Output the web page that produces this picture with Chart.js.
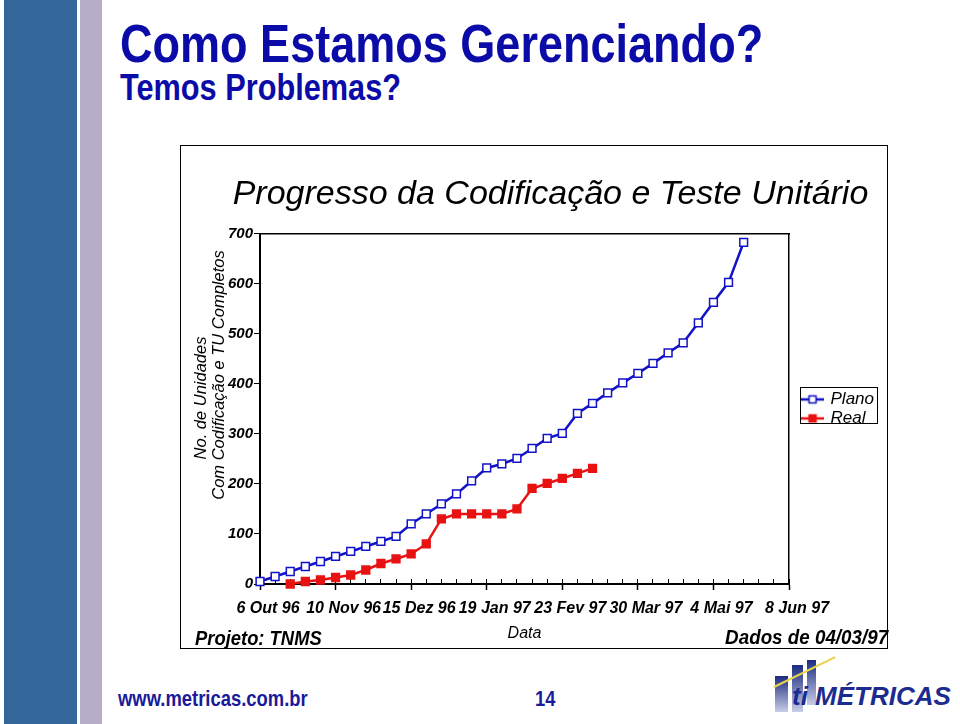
<!DOCTYPE html>
<html lang="pt-br">
<head>
<meta charset="UTF-8">
<title>Como Estamos Gerenciando?</title>
<script src="https://cdn.jsdelivr.net/npm/chart.js@4"></script>
<style>
  body { margin: 0; width: 960px; height: 724px; position: relative; background: #fff; overflow: hidden;
         font-family: 'Liberation Sans', Arial, sans-serif; }
  .barra-azul { position: absolute; left: 4px; top: 0; width: 73px; height: 724px; background: #33669b; }
  .barra-lilas { position: absolute; left: 80px; top: 0; width: 22px; height: 724px; background: #b6aec8; }
  /* sem fonte "narrow" instalada: comprime na horizontal */
  .estreita { transform: scaleX(0.834); transform-origin: left center; }
  .titulo { position: absolute; left: 120px; top: 16px; font-size: 54px; font-weight: bold; color: #0b0ba8; line-height: 1; white-space: nowrap; }
  .subtitulo { position: absolute; left: 120px; top: 69px; font-size: 37px; font-weight: bold; color: #0b0ba8; line-height: 1; white-space: nowrap; }
  .moldura { position: absolute; left: 180px; top: 145px; width: 706px; height: 502px; border: 1px solid #000; }
  .moldura canvas { position: absolute; left: 0; top: 0; }
  .eixo-y { position: absolute; font-size: 16.5px; font-style: italic; white-space: nowrap; line-height: 1;
            transform: translate(-50%, -50%) rotate(-90deg); }
  .rodape-graf { position: absolute; font-size: 21px; font-weight: bold; font-style: italic; line-height: 1; white-space: nowrap; }
  .site { position: absolute; left: 118px; top: 688px; font-size: 22px; font-weight: bold; color: #1a1a9a; line-height: 1; white-space: nowrap; }
  .pagina { position: absolute; left: 535px; top: 688px; font-size: 22px; font-weight: bold; color: #1a1a9a; line-height: 1; }
  .logo-barra { position: absolute; background: linear-gradient(#1b2b80, #c8cde6); }
  .logo-linha { position: absolute; left: 774px; top: 686px; width: 68px; height: 2px; background: #e8d44a; transform: rotate(-26deg); transform-origin: left center; }
  .logo-texto { position: absolute; left: 792px; top: 683px; font-size: 26px; font-weight: bold; font-style: italic; color: #1b2b8f; line-height: 1; white-space: nowrap; }
</style>
</head>
<body>
  <div class="barra-azul"></div>
  <div class="barra-lilas"></div>
  <div class="titulo estreita">Como Estamos Gerenciando?</div>
  <div class="subtitulo estreita" style="transform: scaleX(0.83);">Temos Problemas?</div>

  <div class="moldura">
    <canvas id="grafico" width="706" height="502"></canvas>
  </div>
  <div class="eixo-y" style="left:200px; top:398px;">No. de Unidades</div>
  <div class="eixo-y" style="left:218px; top:375px;">Com Codificação e TU Completos</div>
  <div class="rodape-graf" style="left:195px; top:627px; transform: scaleX(0.876); transform-origin: left center;">Projeto: TNMS</div>
  <div class="rodape-graf" style="right:72px; top:626px; transform: scaleX(0.895); transform-origin: right center;">Dados de 04/03/97</div>

  <div class="site estreita" style="transform: scaleX(0.837);">www.metricas.com.br</div>
  <div class="pagina estreita">14</div>
  <div class="logo-barra" style="left:775px; top:676px; width:13px; height:36px;"></div>
  <div class="logo-barra" style="left:792px; top:665px; width:11px; height:47px;"></div>
  <div class="logo-barra" style="left:807px; top:660px; width:9px; height:45px;"></div>
  <div class="logo-linha"></div>
  <div class="logo-texto">ti MÉTRICAS</div>

<script>
// semanas a partir de 6 Out 96 (uma por semana)
const rotulosSemana = ['6 Out 96', '10 Nov 96', '15 Dez 96', '19 Jan 97', '23 Fev 97', '30 Mar 97', '4 Mai 97', '8 Jun 97'];
const totalSemanas = 35;
const planoValores = [5, 15, 25, 35, 45, 55, 65, 75, 85, 95, 120, 140, 160, 180, 206, 232, 240, 251, 271, 291, 301,
                      341, 361, 382, 402, 421, 441, 462, 482, 522, 563, 603, 683];
const realInicio = 2;
const realValores = [0, 5, 8, 13, 18, 28, 41, 50, 60, 80, 130, 140, 140, 140, 140, 150, 191, 201, 211, 221, 231];
const yTicks = [0, 100, 200, 300, 400, 500, 600, 700];

const SANS = "'Liberation Sans', Arial, sans-serif";
const AZUL = '#1212c8';
const VERMELHO = '#e81212';

// simbolo da legenda: linha com quadrado no meio
function iconeLegenda(cor, preenchido) {
    const c = document.createElement('canvas');
    c.width = 23; c.height = 12;
    const g = c.getContext('2d');
    g.strokeStyle = cor; g.lineWidth = 2.5;
    g.beginPath(); g.moveTo(0, 6); g.lineTo(23, 6); g.stroke();
    g.fillStyle = preenchido ? cor : '#fff';
    g.fillRect(8, 2, 8, 8);
    g.lineWidth = 1.5;
    g.strokeRect(8.5, 2.5, 7, 7);
    return c;
}
const icones = [iconeLegenda(AZUL, false), iconeLegenda(VERMELHO, true)];

// caixa em volta da legenda (cortando a parte de baixo, como no original)
const molduraLegenda = {
    id: 'molduraLegenda',
    afterDraw(chart) {
        const hb = chart.legend.legendHitBoxes;
        if (!hb || !hb.length) return;
        const ctx = chart.ctx;
        const left = Math.min(...hb.map(h => h.left)) - 2;
        const right = Math.max(...hb.map(h => h.left + h.width)) + 3;
        const top = hb[0].top - 4;
        const bottom = hb[hb.length - 1].top + 13;
        ctx.save();
        ctx.fillStyle = '#fff';
        ctx.fillRect(left, bottom, right - left + 1, 12);
        ctx.strokeStyle = '#000';
        ctx.lineWidth = 1;
        ctx.strokeRect(Math.round(left) + 0.5, Math.round(top) + 0.5, Math.round(right - left), Math.round(bottom - top));
        ctx.restore();
    }
};

const ctx = document.getElementById('grafico').getContext('2d');
new Chart(ctx, {
    type: 'line',
    data: {
        datasets: [{
            label: 'Plano',
            data: planoValores.map((v, i) => ({ x: i, y: v })),
            borderColor: AZUL,
            borderWidth: 2.5,
            pointStyle: 'rect',
            pointRadius: 5.5,
            pointBorderWidth: 1.5,
            pointBackgroundColor: '#fff',
            pointBorderColor: AZUL,
            tension: 0,
            clip: false,
            xAxisID: 'x',
            yAxisID: 'y'
        }, {
            label: 'Real',
            data: realValores.map((v, i) => ({ x: i + realInicio, y: v })),
            borderColor: VERMELHO,
            borderWidth: 2.5,
            pointStyle: 'rect',
            pointRadius: 5.5,
            pointBorderWidth: 1.5,
            pointBackgroundColor: VERMELHO,
            pointBorderColor: VERMELHO,
            tension: 0,
            clip: false,
            xAxisID: 'x',
            yAxisID: 'y'
        }]
    },
    options: {
        responsive: false,
        animation: false,
        layout: { padding: { left: 36, top: 0, right: 3, bottom: 0 } },
        plugins: {
            title: {
                display: true,
                text: 'Progresso da Codificação e Teste Unitário',
                color: '#000',
                font: { family: SANS, size: 34, style: 'italic', weight: 'normal' },
                padding: { top: 28, bottom: 19 }
            },
            legend: {
                position: 'right',
                fullSize: false,
                labels: {
                    usePointStyle: true,
                    pointStyleWidth: 20,
                    boxHeight: 12,
                    padding: 2,
                    color: '#000',
                    font: { family: SANS, size: 17, style: 'italic' },
                    generateLabels: chart => chart.data.datasets.map((ds, i) => ({
                        text: ds.label,
                        pointStyle: icones[i],
                        fontColor: '#000',
                        fillStyle: 'transparent',
                        strokeStyle: 'transparent',
                        lineWidth: 0,
                        hidden: false,
                        datasetIndex: i
                    }))
                }
            },
            tooltip: { enabled: false }
        },
        scales: {
            x: {
                type: 'linear', position: 'bottom', weight: 0,
                min: 0, max: totalSemanas,
                ticks: { display: false, stepSize: 1 },
                grid: { drawOnChartArea: false, drawTicks: true, tickLength: -5, tickColor: '#000', tickWidth: 1 },
                border: { display: true, color: '#000', width: 2 },
                afterFit: s => { s.height = 0; }
            },
            xDatas: {
                type: 'linear', position: 'bottom', weight: 1,
                min: 0, max: totalSemanas,
                ticks: {
                    stepSize: 5, autoSkip: false, maxRotation: 0, padding: 9, labelOffset: 8,
                    color: '#000',
                    font: { family: SANS, size: 16, style: 'italic', weight: 'bold' },
                    callback: v => rotulosSemana[v / 5] ?? ''
                },
                grid: { drawOnChartArea: false, tickLength: 6, tickColor: '#000', tickWidth: 1.5 },
                border: { display: true, color: '#000', width: 2 },
                title: {
                    display: true, text: 'Data', color: '#000',
                    font: { family: SANS, size: 16, style: 'italic' },
                    padding: { top: 0, bottom: 5 }
                },
                afterFit: s => { s.height = 64; }
            },
            xTopo: {
                type: 'linear', position: 'top', min: 0, max: totalSemanas,
                ticks: { display: false },
                grid: { drawOnChartArea: false, drawTicks: false },
                border: { display: true, color: '#000', width: 1.5 },
                afterFit: s => { s.height = 0; }
            },
            y: {
                position: 'left', min: 0, max: 700,
                afterBuildTicks: s => { s.ticks = yTicks.map(v => ({ value: v })); },
                ticks: {
                    padding: 1, color: '#000',
                    font: { family: SANS, size: 15, style: 'italic', weight: 'bold' }
                },
                grid: { drawOnChartArea: false, tickLength: 6, tickColor: '#000', tickWidth: 1 },
                border: { display: true, color: '#000', width: 2 },
                afterFit: s => { s.width = 43; }
            },
            yDireita: {
                position: 'right', min: 0, max: 700,
                ticks: { display: false },
                grid: { drawOnChartArea: false, drawTicks: false },
                border: { display: true, color: '#000', width: 1.5 },
                afterFit: s => { s.width = 11; }
            }
        }
    },
    plugins: [molduraLegenda]
});
</script>
</body>
</html>
